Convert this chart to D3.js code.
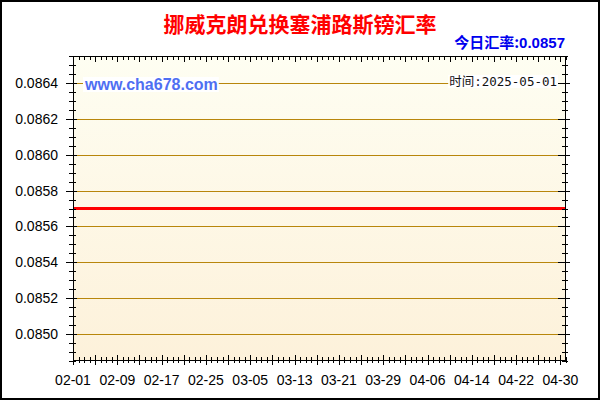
<!DOCTYPE html>
<html>
<head>
<meta charset="utf-8">
<script src="https://cdn.jsdelivr.net/npm/d3@7"></script>
<style>
  body { margin: 0; background: #fff; }
  svg { display: block; }
</style>
</head>
<body>
<svg id="chart" width="600" height="400"></svg>
<script>
var title = '挪威克朗兑换塞浦路斯镑汇率';
var todayLabel = '今日汇率:';
var todayRate = '0.0857';
var siteLabel = 'www.cha678.com';
var timeLabel = '时间:2025-05-01';

// one point per day, 02-01 .. 05-01
var startDay = '2025-02-01';
var endDay = '2025-05-01';
var rates = [
  0.0857, 0.0857, 0.0857, 0.0857, 0.0857, 0.0857, 0.0857, 0.0857, 0.0857, 0.0857,
  0.0857, 0.0857, 0.0857, 0.0857, 0.0857, 0.0857, 0.0857, 0.0857, 0.0857, 0.0857,
  0.0857, 0.0857, 0.0857, 0.0857, 0.0857, 0.0857, 0.0857, 0.0857, 0.0857, 0.0857,
  0.0857, 0.0857, 0.0857, 0.0857, 0.0857, 0.0857, 0.0857, 0.0857, 0.0857, 0.0857,
  0.0857, 0.0857, 0.0857, 0.0857, 0.0857, 0.0857, 0.0857, 0.0857, 0.0857, 0.0857,
  0.0857, 0.0857, 0.0857, 0.0857, 0.0857, 0.0857, 0.0857, 0.0857, 0.0857, 0.0857,
  0.0857, 0.0857, 0.0857, 0.0857, 0.0857, 0.0857, 0.0857, 0.0857, 0.0857, 0.0857,
  0.0857, 0.0857, 0.0857, 0.0857, 0.0857, 0.0857, 0.0857, 0.0857, 0.0857, 0.0857,
  0.0857, 0.0857, 0.0857, 0.0857, 0.0857, 0.0857, 0.0857, 0.0857, 0.0857, 0.0857
];

var xTickLabels = ['02-01', '02-09', '02-17', '02-25', '03-05', '03-13',
                   '03-21', '03-29', '04-06', '04-14', '04-22', '04-30'];
var yTickValues = [0.0850, 0.0852, 0.0854, 0.0856, 0.0858, 0.0860, 0.0862, 0.0864];
var yDomain = [0.08485, 0.08655];

var svg = d3.select('#chart');
var W = 600, H = 400;
var m = {left: 73, right: 566, top: 56, bottom: 361};
var latin = 'Arial, "Liberation Sans", sans-serif';
var cjk = '"Noto Sans CJK SC", "Microsoft YaHei", sans-serif';

var parseDay = d3.timeParse('%Y-%m-%d');
var d0 = parseDay(startDay), d1 = parseDay(endDay);
var days = d3.timeDay.range(d0, d3.timeDay.offset(d1, 1));
var data = days.map(function(d, i){ return {date: d, value: rates[i]}; });

var x = d3.scaleTime().domain([d0, d1]).range([m.left, m.right]);
var y = d3.scaleLinear().domain(yDomain).range([m.bottom, m.top]);

// background
var grad = svg.append('defs').append('linearGradient')
    .attr('id', 'bg').attr('x1', 0).attr('y1', 0).attr('x2', 0).attr('y2', 1);
grad.append('stop').attr('offset', '0%').attr('stop-color', '#fefef2');
grad.append('stop').attr('offset', '100%').attr('stop-color', '#fdf1da');

svg.append('rect')
    .attr('x', m.left).attr('y', m.top)
    .attr('width', m.right - m.left).attr('height', m.bottom - m.top)
    .style('fill', 'url(#bg)');

// grid
svg.append('g').selectAll('line')
    .data(yTickValues)
    .enter().append('line')
    .attr('x1', m.left).attr('x2', m.right)
    .attr('y1', function(d){ return Math.round(y(d)) + 0.5; })
    .attr('y2', function(d){ return Math.round(y(d)) + 0.5; })
    .style('stroke', '#b8860b').style('stroke-width', 1);

// watermark texts with their white boxes
function boxedText(tx, ty, str, anchor, font, size, weight, color){
    var g = svg.append('g');
    var bg = g.append('rect').style('fill', '#fff');
    var t = g.append('text')
        .attr('x', tx).attr('y', ty)
        .attr('text-anchor', anchor)
        .style('font-family', font)
        .style('font-size', size)
        .style('font-weight', weight)
        .style('fill', color)
        .text(str);
    var b = t.node().getBBox();
    bg.attr('x', b.x - 1).attr('y', b.y + 1)
      .attr('width', b.width + 2).attr('height', b.height - 2);
}
boxedText(85, 90, siteLabel, 'start', latin, '16px', 'bold', '#4f6ff2');
boxedText(557, 86, timeLabel, 'end', '"DejaVu Sans Mono", ' + cjk, '12.5px', 'normal', '#111');

// red line
var line = d3.line()
    .x(function(d){ return x(d.date); })
    .y(function(d){ return y(d.value); });
svg.append('path')
    .datum(data)
    .attr('d', line)
    .style('fill', 'none')
    .style('stroke', '#ff0000')
    .style('stroke-width', 3);

// frame
svg.append('rect')
    .attr('x', m.left + 0.5).attr('y', m.top + 0.5)
    .attr('width', m.right - m.left - 1).attr('height', m.bottom - m.top - 1)
    .style('fill', 'none').style('stroke', '#000');

// ticks
var minorX = d3.timeDay.range(d0, d3.timeDay.offset(d1, 1));
var majorX = d3.timeDay.range(d0, d3.timeDay.offset(d1, 1), 4);
var minorY = d3.range(Math.round(yDomain[0] * 20000), Math.round(yDomain[1] * 20000) + 1)
    .map(function(k){ return k / 20000; });

var ticks = svg.append('g').style('stroke', '#000').style('stroke-width', 1);
function vTick(px, ya, yb){
    ticks.append('line').attr('x1', px).attr('x2', px).attr('y1', ya).attr('y2', yb);
}
function hTick(py, xa, xb){
    ticks.append('line').attr('y1', py).attr('y2', py).attr('x1', xa).attr('x2', xb);
}
minorX.forEach(function(d){
    var px = Math.round(x(d)) + 0.5;
    vTick(px, m.bottom - 4, m.bottom + 2);
    vTick(px, m.top, m.top + 4);
});
majorX.forEach(function(d){
    var px = Math.round(x(d)) + 0.5;
    vTick(px, m.bottom - 6, m.bottom + 4);
    vTick(px, m.top, m.top + 6);
});
minorY.forEach(function(v){
    var py = Math.round(y(v)) + 0.5;
    hTick(py, m.left - 4, m.left + 3);
    hTick(py, m.right - 4, m.right + 2);
});
yTickValues.forEach(function(v){
    var py = Math.round(y(v)) + 0.5;
    hTick(py, m.left - 7, m.left + 4);
    hTick(py, m.right - 8, m.right + 4);
});

// axis labels
svg.append('g').selectAll('text')
    .data(yTickValues)
    .enter().append('text')
    .attr('x', 58)
    .attr('y', function(d){ return y(d); })
    .attr('dy', '0.36em')
    .attr('text-anchor', 'end')
    .style('font-family', latin).style('font-size', '14px').style('fill', '#000')
    .text(d3.format('.4f'));

var parseLabel = d3.timeParse('%Y-%m-%d');
svg.append('g').selectAll('text')
    .data(xTickLabels)
    .enter().append('text')
    .attr('x', function(d){ return x(parseLabel('2025-' + d)); })
    .attr('y', 385)
    .attr('text-anchor', 'middle')
    .style('font-family', latin).style('font-size', '14px').style('fill', '#000')
    .text(function(d){ return d; });

// titles
svg.append('text')
    .attr('x', 300).attr('y', 32)
    .attr('text-anchor', 'middle')
    .style('font-family', cjk).style('font-size', '21px').style('font-weight', 'bold')
    .style('fill', '#ff0000')
    .text(title);

var today = svg.append('text')
    .attr('x', 565).attr('y', 48)
    .attr('text-anchor', 'end')
    .style('font-weight', 'bold').style('font-size', '15px').style('fill', '#0000ee');
today.append('tspan').style('font-family', cjk).text(todayLabel);
today.append('tspan').style('font-family', latin).text(todayRate);

// outer border
svg.append('rect')
    .attr('x', 1).attr('y', 1).attr('width', W - 2).attr('height', H - 2)
    .style('fill', 'none').style('stroke', '#000').style('stroke-width', 2);
</script>
</body>
</html>
